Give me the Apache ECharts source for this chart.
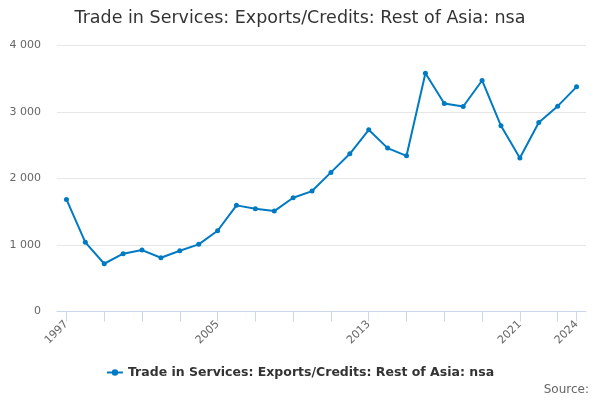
<!DOCTYPE html>
<html>
<head>
<meta charset="utf-8">
<script src="https://cdn.jsdelivr.net/npm/echarts@6/dist/echarts.min.js"></script>
<style>
html,body{margin:0;padding:0;background:#fff;}
#chart{width:600px;height:400px;}
</style>
</head>
<body>
<div id="chart"></div>
<script>
const years = [1997,1998,1999,2000,2001,2002,2003,2004,2005,2006,2007,2008,2009,2010,2011,2012,2013,2014,2015,2016,2017,2018,2019,2020,2021,2022,2023,2024];
const values = [1686,1040,718,869,924,808,914,1010,1214,1596,1545,1510,1710,1811,2092,2371,2732,2457,2341,3584,3128,3083,3474,2792,2307,2843,3088,3378];
const tickYears = [1997,1999,2001,2003,2005,2007,2009,2011,2013,2015,2017,2019,2021,2023,2024];
const labelYears = [1997,2005,2013,2021,2024];
const yTicks = [0,1000,2000,3000,4000];
const seriesName = 'Trade in Services: Exports/Credits: Rest of Asia: nsa';
const titleText = 'Trade in Services: Exports/Credits: Rest of Asia: nsa';

const chart = echarts.init(document.getElementById('chart'));
chart.setOption({
  animation: false,
  textStyle: { fontFamily: 'DejaVu Sans' },
  title: {
    text: titleText,
    left: 'center',
    top: 9,
    padding: 0,
    textStyle: { fontFamily: 'DejaVu Sans', fontSize: 17.5, fontWeight: 'normal', color: '#333333' }
  },
  legend: {
    bottom: 16,
    left: 'center',
    itemWidth: 16,
    itemHeight: 8,
    itemGap: 8,
    textStyle: { fontFamily: 'DejaVu Sans', fontSize: 12.5, fontWeight: 'bold', color: '#333333' },
    data: [seriesName]
  },
  grid: { left: 57, right: 14, top: 45.5, bottom: 88.5, containLabel: false },
  xAxis: {
    type: 'value',
    min: years[0] - 0.5,
    max: years[years.length - 1] + 0.5,
    splitLine: { show: false },
    axisLine: { show: true, onZero: false, lineStyle: { color: '#ccd6eb' } },
    axisTick: {
      show: true,
      length: 10,
      lineStyle: { color: '#ccd6eb' },
      customValues: tickYears
    },
    axisLabel: {
      rotate: 45,
      fontSize: 11,
      color: '#666666',
      margin: 11,
      customValues: labelYears,
      formatter: function (v) { return String(v); }
    }
  },
  yAxis: {
    type: 'value',
    min: yTicks[0],
    max: yTicks[yTicks.length - 1],
    interval: 1000,
    axisLine: { show: false },
    axisTick: { show: false },
    splitLine: { lineStyle: { color: '#e6e6e6' } },
    axisLabel: {
      fontSize: 11,
      color: '#666666',
      margin: 16,
      formatter: function (v) { return String(v).replace(/\B(?=(\d{3})+(?!\d))/g, ' '); }
    }
  },
  series: [{
    name: seriesName,
    type: 'line',
    data: years.map(function (y, i) { return [y, values[i]]; }),
    color: '#007ac3',
    symbol: 'circle',
    symbolSize: 5,
    lineStyle: { width: 2, color: '#007ac3' },
    itemStyle: { color: '#007ac3' }
  }],
  graphic: [{
    type: 'text',
    right: 11,
    bottom: 4,
    style: { text: 'Source:', fontFamily: 'DejaVu Sans', fontSize: 12, fill: '#666666' }
  }]
});
</script>
</body>
</html>
